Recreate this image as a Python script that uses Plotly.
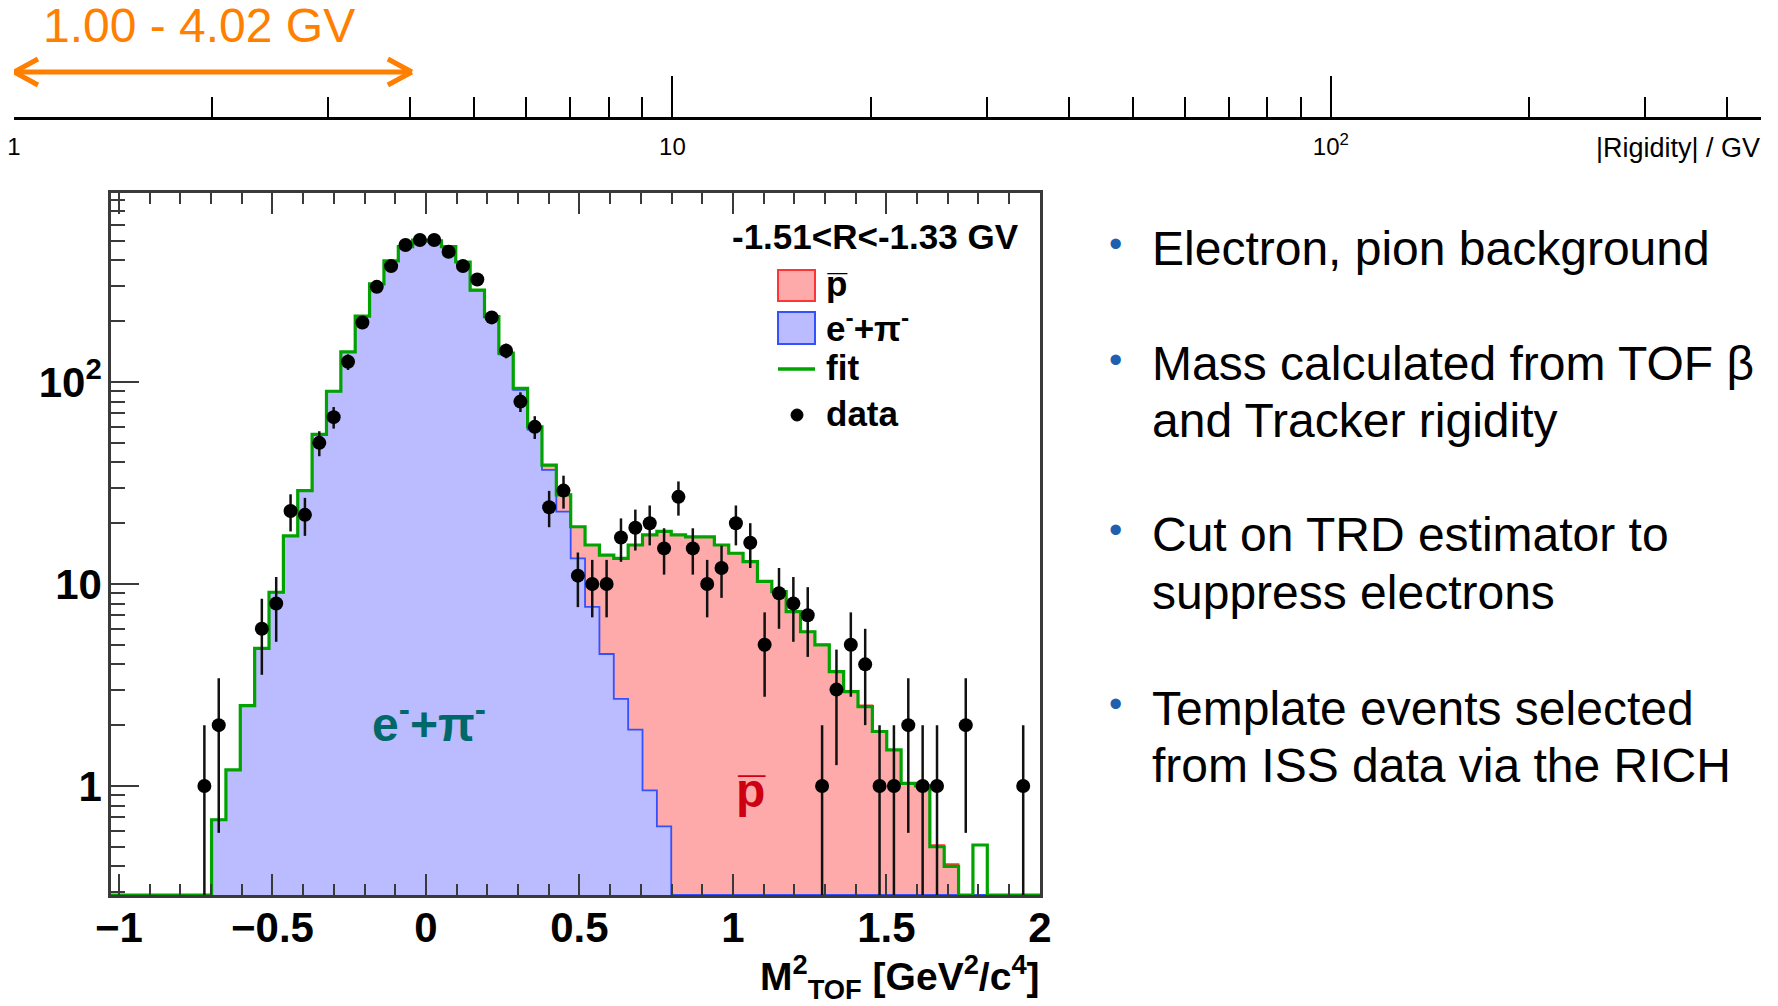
import numpy as np
import plotly.graph_objects as go

W, H = 1778, 1006

# ---------------- data ----------------
# M^2_TOF histogram binning
BIN_LO = -1.026
BIN_W = 0.0468
N_BINS = 65

DATA_COUNTS = [0, 0, 0, 0, 0, 0, 1, 2, 0, 0,
               6, 8, 23, 22, 50, 67, 126, 197, 296, 375,
               477, 505, 505, 442, 375, 322, 209, 143, 80, 60,
               24, 29, 11, 10, 10, 17, 19, 20, 15, 27,
               15, 10, 12, 20, 16, 5, 9, 8, 7, 1,
               3, 5, 4, 1, 1, 2, 1, 1, 0, 2,
               0, 0, 0, 1, 0]

FIT_TOTAL = [0, 0, 0, 0, 0, 0, 0, 0.68, 1.2, 2.5,
             4.8, 9.1, 17.3, 29, 55, 90, 141, 212, 306, 398,
             468, 505, 500, 468, 393, 285, 211, 139, 93, 60,
             38.8, 27.6, 19.2, 15.6, 13.9, 13.4, 15.6, 17.5, 18.2, 17.5,
             17.1, 17.1, 15.6, 14.2, 12.9, 10.3, 9.16, 7.3, 5.8, 5.0,
             3.68, 2.93, 2.47, 1.86, 1.51, 1.03, 1.0, 0.50, 0.40, 0,
             0.51, 0, 0, 0, 0]

EPI_TEMPLATE = [0, 0, 0, 0, 0, 0, 0, 0.68, 1.2, 2.5,
                4.8, 9.1, 17.3, 29, 55, 90, 141, 212, 306, 398,
                468, 505, 500, 467, 392, 284, 210, 137, 91.5, 58.2,
                36.7, 22.8, 13.4, 7.7, 4.5, 2.7, 1.9, 0.95, 0.63, 0.2,
                0.15, 0.1, 0.08, 0.06, 0.05, 0.04, 0.03, 0.03, 0.02, 0.02,
                0.02, 0.01, 0.01, 0.01, 0.01, 0.01, 0.01, 0.01, 0.01, 0.01,
                0.01, 0, 0, 0, 0]

PBAR_TEMPLATE = [0, 0, 0, 0, 0, 0, 0, 0, 0, 0,
                 0, 0, 0, 0, 0, 0, 0, 0.1, 0.1, 0.1,
                 0.2, 0.2, 0.3, 0.5, 0.7, 1.0, 1.3, 1.2, 1.5, 1.8,
                 2.1, 4.8, 5.8, 7.9, 9.4, 10.7, 13.7, 16.5, 17.6, 17.3,
                 17.0, 17.0, 15.5, 14.1, 12.8, 10.3, 9.1, 7.3, 5.8, 5.0,
                 3.7, 2.9, 2.5, 1.85, 1.5, 1.02, 1.0, 0.5, 0.4, 0,
                 0, 0, 0, 0, 0]

X_RANGE = [-1.026, 2.0005]
Y_LOG_RANGE = [-0.54, 2.936]
X_TICKS = [-1, -0.5, 0, 0.5, 1, 1.5, 2]
X_TICKTEXT = ["\u22121", "\u22120.5", "0", "0.5", "1", "1.5", "2"]
Y_TICKS = [1, 10, 100]
Y_TICKTEXT = ["1", "10", "10<sup>2</sup>"]
Y_MINOR = [0.3, 0.4, 0.5, 0.6, 0.7, 0.8, 0.9,
           2, 3, 4, 5, 6, 7, 8, 9,
           20, 30, 40, 50, 60, 70, 80, 90,
           200, 300, 400, 500, 600, 700, 800]

# rigidity scale on top
RIG_RANGE = [1, 450]
RIG_MAJOR = [1, 10, 100, 450]
RIG_MAJOR_TEXT = ["1", "10", "10<sup>2</sup>", ""]
RIG_MINOR = [2, 3, 4, 5, 6, 7, 8, 9, 20, 30, 40, 50, 60, 70, 80, 90, 200, 300, 400]
ARROW_RANGE = [1.00, 4.02]

BULLETS = [["Electron, pion background"],
           ["Mass calculated from TOF \u03b2", "and Tracker rigidity"],
           ["Cut on TRD estimator to", "suppress electrons"],
           ["Template events selected", "from ISS data via the RICH"]]

# ---------------- styles ----------------
FONT = "Liberation Sans, Arial, Helvetica, sans-serif"
FRAME = "#3a3a3a"
RED_FILL, RED_LINE = "#FFAAAA", "#FF3535"
BLUE_FILL, BLUE_LINE = "#BBBBFF", "#3550FF"
GREEN = "#00A300"
ORANGE = "#FF7F00"


def px(X):
    return X / W


def py(Y):
    return 1 - Y / H


edges = BIN_LO + BIN_W * np.arange(N_BINS + 1)
centers = 0.5 * (edges[:-1] + edges[1:])
floor_val = 10 ** Y_LOG_RANGE[0]


def step_y(vals):
    v = np.maximum(np.asarray(vals, float), floor_val)
    return np.append(v, v[-1])


epi = np.asarray(EPI_TEMPLATE, float)
pbar = np.asarray(PBAR_TEMPLATE, float)
stack_top = epi + pbar
counts = np.asarray(DATA_COUNTS, float)
mask = counts > 0

fig = go.Figure()
fig.add_trace(go.Scatter(x=edges, y=step_y(stack_top), mode="lines",
                         line=dict(color=RED_LINE, width=1.6, shape="hv"),
                         fill="tozeroy", fillcolor=RED_FILL,
                         hoverinfo="skip", showlegend=False))
fig.add_trace(go.Scatter(x=edges, y=step_y(epi), mode="lines",
                         line=dict(color=BLUE_LINE, width=1.8, shape="hv"),
                         fill="tozeroy", fillcolor=BLUE_FILL,
                         hoverinfo="skip", showlegend=False))
fig.add_trace(go.Scatter(x=edges, y=step_y(FIT_TOTAL), mode="lines",
                         line=dict(color=GREEN, width=3.2, shape="hv"),
                         hoverinfo="skip", showlegend=False))
fig.add_trace(go.Scatter(x=centers[mask], y=counts[mask], mode="markers",
                         marker=dict(color="black", size=14),
                         error_y=dict(type="data", array=np.sqrt(counts[mask]),
                                      width=0, thickness=2.5, color="#111111"),
                         hoverinfo="skip", showlegend=False))
# dummy trace for the rigidity axis
fig.add_trace(go.Scatter(x=[RIG_RANGE[0]], y=[0.5], xaxis="x2", yaxis="y2",
                         mode="markers", marker=dict(opacity=0),
                         hoverinfo="skip", showlegend=False))

tickfont = dict(family=FONT, size=42, color="black", weight="bold")

fig.update_layout(
    width=W, height=H,
    margin=dict(l=0, r=0, t=0, b=0, autoexpand=False),
    paper_bgcolor="white", plot_bgcolor="white",
    showlegend=False,
    xaxis=dict(domain=[px(111), px(1040)], range=X_RANGE, automargin=False,
               showline=True, linecolor=FRAME, linewidth=2.5, mirror="ticks",
               ticks="inside", ticklen=21, tickwidth=2, tickcolor=FRAME,
               tickmode="array", tickvals=X_TICKS, ticktext=X_TICKTEXT,
               tickfont=tickfont, ticklabelstandoff=-6,
               minor=dict(dtick=0.1, tick0=0, ticks="inside", ticklen=11,
                          tickwidth=2, tickcolor=FRAME),
               showgrid=False, zeroline=False, anchor="y"),
    yaxis=dict(domain=[py(895), py(193)], type="log", range=Y_LOG_RANGE,
               automargin=False,
               showline=True, linecolor=FRAME, linewidth=2.5, mirror=True,
               ticks="inside", ticklen=28, tickwidth=2, tickcolor=FRAME,
               tickmode="array", tickvals=Y_TICKS, ticktext=Y_TICKTEXT,
               tickfont=tickfont, ticklabelstandoff=-2,
               minor=dict(tickmode="array", tickvals=Y_MINOR, ticks="inside",
                          ticklen=14, tickwidth=2, tickcolor=FRAME),
               showgrid=False, zeroline=False, anchor="x"),
    xaxis2=dict(domain=[px(14), px(1761)], type="log", automargin=False,
                range=[np.log10(RIG_RANGE[0]), np.log10(RIG_RANGE[1])],
                anchor="y2", showline=True, linecolor="black", linewidth=3,
                ticks="inside", ticklen=41, tickwidth=2, tickcolor="black",
                tickmode="array", tickvals=RIG_MAJOR, ticktext=RIG_MAJOR_TEXT,
                tickfont=dict(family=FONT, size=24, color="black"),
                ticklabelstandoff=6,
                minor=dict(tickmode="array", tickvals=RIG_MINOR, ticks="inside",
                           ticklen=20, tickwidth=2, tickcolor="black"),
                showgrid=False, zeroline=False),
    yaxis2=dict(domain=[py(117), py(40)], range=[0, 1], visible=False,
                automargin=False, anchor="x2"),
)

shapes = []
# orange double arrow on the rigidity scale
arm = 10 ** (24 / 658.7)
ay, ah = 72, 13
shapes.append(dict(type="line", xref="x2", yref="paper",
                   x0=ARROW_RANGE[0], x1=ARROW_RANGE[1], y0=py(ay), y1=py(ay),
                   line=dict(color=ORANGE, width=5)))
for tip, sgn in ((ARROW_RANGE[0], 1), (ARROW_RANGE[1], -1)):
    for dy in (-ah, ah):
        shapes.append(dict(type="line", xref="x2", yref="paper",
                           x0=tip, x1=tip * arm ** sgn, y0=py(ay), y1=py(ay + dy),
                           line=dict(color=ORANGE, width=5)))

# legend boxes
shapes.append(dict(type="rect", xref="paper", yref="paper",
                   x0=px(778), x1=px(815), y0=py(301), y1=py(270),
                   fillcolor=RED_FILL, line=dict(color=RED_LINE, width=2)))
shapes.append(dict(type="rect", xref="paper", yref="paper",
                   x0=px(778), x1=px(815), y0=py(344), y1=py(312),
                   fillcolor=BLUE_FILL, line=dict(color=BLUE_LINE, width=2)))
shapes.append(dict(type="line", xref="paper", yref="paper",
                   x0=px(778), x1=px(815), y0=py(369), y1=py(369),
                   line=dict(color=GREEN, width=3.5)))
shapes.append(dict(type="circle", xref="paper", yref="paper",
                   x0=px(791), x1=px(803), y0=py(421), y1=py(409),
                   fillcolor="black", line=dict(color="black", width=1)))
fig.update_layout(shapes=shapes)

ann = []


def add_text(text, X, Y, size, color="black", xanchor="left", bold=False,
             yanchor="middle"):
    ann.append(dict(text=text, x=px(X), y=py(Y), xref="paper", yref="paper",
                    xanchor=xanchor, yanchor=yanchor, showarrow=False,
                    font=dict(family=FONT, size=size, color=color,
                              weight="bold" if bold else "normal")))


add_text("1.00 - 4.02 GV", 41, 26, 48, color=ORANGE)
add_text("|Rigidity| / GV", 1762, 148, 27, xanchor="right")

add_text("-1.51&lt;R&lt;-1.33 GV", 1021, 236, 35, xanchor="right", bold=True)
add_text("p\u0305", 824, 283, 35, bold=True)
add_text("e<sup>-</sup>+\u03c0<sup>-</sup>", 824, 326, 35, bold=True)
add_text("fit", 824, 367, 35, bold=True)
add_text("data", 824, 413, 35, bold=True)

add_text("e<sup>-</sup>+\u03c0<sup>-</sup>", 429, 721, 48, color="#006868",
         xanchor="center", bold=True)
add_text("p\u0305", 751, 790, 48, color="#CC0011", xanchor="center", bold=True)

add_text("M<sup>2</sup><sub>TOF</sub> [GeV<sup>2</sup>/c<sup>4</sup>]", 1042, 977,
         39, xanchor="right", bold=True)

bullet_y = [[248], [364, 421], [534, 592], [708, 765]]
for lines, ys in zip(BULLETS, bullet_y):
    add_text("\u2022", 1115, ys[0] - 4, 38, color="#1F5FAF", xanchor="center")
    for t, yy in zip(lines, ys):
        add_text(t, 1150, yy, 48)

fig.update_layout(annotations=ann)

fig.write_html("out.html")
